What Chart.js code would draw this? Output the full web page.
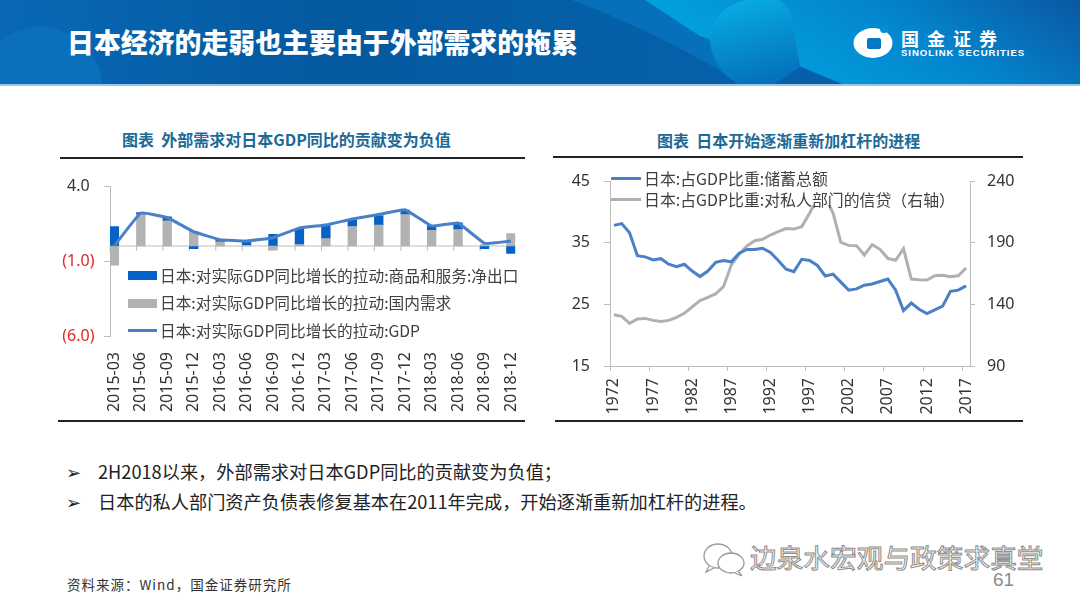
<!DOCTYPE html>
<html lang="zh-CN">
<head>
    <meta charset="UTF-8">
    <title>日本经济的走弱也主要由于外部需求的拖累</title>
    <script src="https://cdn.jsdelivr.net/npm/chart.js"></script>
    <style>
        html, body { margin: 0; padding: 0; background: #fff; }
        #page { position: relative; width: 1080px; height: 607px; overflow: hidden; font-family: "Noto Sans CJK SC", sans-serif; color: #262626; }
        #page > * { position: absolute; }
        .rule { height: 2px; background: #222; }
        .chart-title { color: #1c6a97; font-size: 16px; font-weight: 700; line-height: 20px; white-space: pre; }
        .legend { background: #fff; color: #404040; line-height: 20px; white-space: nowrap; }
        .legend-row { display: flex; align-items: center; }
        .legend-key { flex: none; margin-right: 3px; }
        .bullet { font-size: 18.2px; line-height: 24px; white-space: nowrap; color: #222; }
    </style>
</head>
<body>
<div id="page">
    <!-- header band -->
    <svg style="left:0;top:0" width="1080" height="86">
        <defs>
            <linearGradient id="bandBase" x1="0" x2="1" y1="0" y2="0">
                <stop offset="0" stop-color="#0868b6"/>
                <stop offset="0.3" stop-color="#05599f"/>
                <stop offset="0.6" stop-color="#0560a9"/>
                <stop offset="1" stop-color="#0660ac"/>
            </linearGradient>
            <linearGradient id="bandRight" x1="0" x2="1" y1="0.3" y2="0">
                <stop offset="0" stop-color="#02a4e2"/>
                <stop offset="0.55" stop-color="#0385cd"/>
                <stop offset="1" stop-color="#0b57a3"/>
            </linearGradient>
            <linearGradient id="bandOrb" x1="0" x2="0.4" y1="0" y2="1">
                <stop offset="0" stop-color="#08b0e6"/>
                <stop offset="1" stop-color="#0470bb"/>
            </linearGradient>
            <clipPath id="bandClip"><rect width="1080" height="84"/></clipPath>
        </defs>
        <rect width="1080" height="84" fill="url(#bandBase)"/>
        <circle cx="40" cy="90" r="63" fill="#0a70bd" clip-path="url(#bandClip)"/>
        <path d="M572 0 C620 18 670 42 712 66 L740 84 L845 84 L1080 84 L1080 0 Z" fill="#0670bb"/>
        <path d="M645 0 L700 36 L842 84 L1080 84 L1080 0 Z" fill="url(#bandRight)"/>
        <path d="M745 0 C722 6 708 24 710 42 C712 60 722 74 738 84 L842 84 L800 66 L790 10 L780 0 Z" fill="url(#bandOrb)"/>
        <path d="M775 84 L842 84 L800 67 Z" fill="#0560a9"/>
        <rect y="84" width="1080" height="2" fill="#9cc6e6"/>
    </svg>
    <div style="left:67px;top:23px;font-size:26.9px;font-weight:900;line-height:38px;color:#fff;white-space:nowrap">日本经济的走弱也主要由于外部需求的拖累</div>
    <svg style="left:852px;top:26px" width="44" height="34">
        <ellipse cx="21" cy="17" rx="19.5" ry="15" fill="#fff"/>
        <circle cx="32" cy="3" r="4" fill="#0a8ed2"/>
        <rect x="15" y="12" width="14" height="11" rx="2" fill="#0579c4"/>
    </svg>
    <div style="left:901px;top:27px;font-size:18px;font-weight:700;line-height:22px;letter-spacing:8px;color:#fff;white-space:nowrap">国金证券</div>
    <div style="left:901px;top:47px;font-family:'Liberation Sans',sans-serif;font-size:9.6px;font-weight:700;line-height:11px;letter-spacing:0.95px;color:#fff;white-space:nowrap">SINOLINK SECURITIES</div>

    <!-- left panel -->
    <div class="chart-title" style="left:122px;top:129px">图表  外部需求对日本GDP同比的贡献变为负值</div>
    <div class="rule" style="left:60px;top:157px;width:465px"></div>
    <canvas id="demandChart" style="left:60px;top:170px" width="480" height="260"></canvas>
    <div id="demandLegend" class="legend" style="left:128px;top:262px;font-size:15.7px"></div>
    <div class="rule" style="left:58px;top:420px;width:467px"></div>

    <!-- right panel -->
    <div class="chart-title" style="left:657px;top:130px">图表  日本开始逐渐重新加杠杆的进程</div>
    <div class="rule" style="left:553px;top:156px;width:470px"></div>
    <canvas id="leverageChart" style="left:560px;top:165px" width="470" height="260"></canvas>
    <div id="leverageLegend" class="legend" style="left:611px;top:168px;height:37px;font-size:15.9px"></div>
    <div class="rule" style="left:555px;top:420px;width:468px"></div>

    <!-- notes -->
    <div class="bullet" style="left:66px;top:459px">➢</div>
    <div class="bullet" style="left:98px;top:459px">2H2018以来，外部需求对日本GDP同比的贡献变为负值；</div>
    <div class="bullet" style="left:66px;top:489px">➢</div>
    <div class="bullet" style="left:98px;top:489px">日本的私人部门资产负债表修复基本在2011年完成，开始逐渐重新加杠杆的进程。</div>
    <div style="left:67px;top:574px;font-size:13.5px;line-height:20px;letter-spacing:1px;color:#333;white-space:nowrap">资料来源：Wind，国金证券研究所</div>

    <!-- watermark and page number -->
    <svg style="left:702px;top:541px" width="46" height="38" fill="#fff" stroke="#9a9a9a" stroke-width="1.3">
        <ellipse cx="16" cy="15" rx="14" ry="12"/>
        <path d="M7 25 L4 31 L12 27"/>
        <ellipse cx="29" cy="22" rx="13" ry="10"/>
        <path d="M36 30 L40 35 L33 32"/>
    </svg>
    <div style="left:750px;top:538px;font-size:26.7px;line-height:38px;color:#fff;-webkit-text-stroke:1px #8c8c8c;white-space:nowrap">边泉水宏观与政策求真堂</div>
    <div style="left:993px;top:568px;font-family:'Liberation Sans',sans-serif;font-size:19px;line-height:24px;color:#8c8c8c">61</div>
</div>

<script>
    // left chart: quarterly contribution to Japan GDP growth
    const quarters = ['2015-03', '2015-06', '2015-09', '2015-12', '2016-03', '2016-06', '2016-09', '2016-12',
        '2017-03', '2017-06', '2017-09', '2017-12', '2018-03', '2018-06', '2018-09', '2018-12'];
    const netExports = [1.29, 0.12, 0.27, -0.18, 0.13, 0.29, 0.78, 1.05, 0.9, 0.45, 0.62, 0.3, 0.3, 0.45, -0.18, -0.49];
    const domesticDemand = [-1.27, 2.1, 1.67, 0.98, 0.27, 0.04, -0.27, 0.1, 0.5, 1.3, 1.4, 2.1, 1.05, 1.1, 0.1, 0.82];
    const gdpContribution = [0.02, 2.2, 1.9, 0.95, 0.42, 0.33, 0.55, 1.2, 1.4, 1.8, 2.1, 2.42, 1.33, 1.53, 0.18, 0.33];
    const demandTicks = [4, -1, -6];
    const demandLabels = ['日本:对实际GDP同比增长的拉动:商品和服务:净出口', '日本:对实际GDP同比增长的拉动:国内需求', '日本:对实际GDP同比增长的拉动:GDP'];

    // right chart: annual share of GDP
    const years = [1972, 1973, 1974, 1975, 1976, 1977, 1978, 1979, 1980, 1981, 1982, 1983, 1984, 1985, 1986, 1987,
        1988, 1989, 1990, 1991, 1992, 1993, 1994, 1995, 1996, 1997, 1998, 1999, 2000, 2001, 2002, 2003, 2004, 2005,
        2006, 2007, 2008, 2009, 2010, 2011, 2012, 2013, 2014, 2015, 2016, 2017];
    const savingsShare = [37.8, 38.1, 36.6, 32.9, 32.7, 32.2, 32.4, 31.5, 31.1, 31.5, 30.4, 29.5, 30.4, 31.8, 32.1, 31.9,
        33.3, 33.9, 33.9, 34.1, 33.4, 32.1, 30.7, 30.3, 32.3, 32.1, 31.3, 29.6, 29.9, 28.6, 27.3, 27.5, 28.1, 28.3,
        28.7, 29.1, 27.3, 24.0, 25.2, 24.2, 23.5, 24.1, 24.7, 27.1, 27.3, 28.0];
    const privateCredit = [131.6, 130.3, 124.6, 128.1, 128.6, 127, 126, 127, 129.5, 132.7, 138, 143, 145.7, 148.4, 154.3, 172,
        180.5, 187.3, 191.6, 192.7, 196.2, 199, 201.4, 201, 203, 213.8, 226, 227, 214, 190.3, 187.8, 187.6, 180, 188.4,
        184.6, 177.3, 175.7, 185.1, 160.5, 160, 159.7, 163.2, 163.5, 162.4, 163.2, 169.5];
    const leverageLabels = ['日本:占GDP比重:储蓄总额', '日本:占GDP比重:对私人部门的信贷（右轴）'];

    const BLUE_BAR = '#0563c8';
    const GRAY_BAR = '#b2b2b2';
    const BLUE_LINE = '#4a80c8';
    const GRAY_LINE = '#b0b0b0';
    const AXIS_GRAY = '#bdbdbd';
    const TICK_FONT = { family: '"Noto Sans", sans-serif', size: 16 };

    // bars sit just right of the tick marks, so the x axis runs a little past the first and last index
    const BAR_EDGE = 0.165;

    Chart.defaults.animation = false;
    Chart.defaults.responsive = false;

    function points(values) {
        return values.map((v, i) => ({ x: i, y: v }));
    }

    // fixed axis size, and no extra room for labels that stick out past the plot
    function fixAxis(scale, size) {
        if (scale.isHorizontal()) scale.height = size;
        else scale.width = size;
        scale.paddingLeft = scale.paddingRight = scale.paddingTop = scale.paddingBottom = 0;
    }

    // zero line with the category tick marks hanging off it
    const zeroLine = {
        id: 'zeroLine',
        beforeDatasetsDraw(chart) {
            const { ctx, scales: { x, y } } = chart;
            const y0 = y.getPixelForValue(0);
            ctx.save();
            ctx.strokeStyle = AXIS_GRAY;
            ctx.lineWidth = 1;
            ctx.beginPath();
            ctx.moveTo(x.left, y0);
            ctx.lineTo(x.right, y0);
            quarters.forEach((q, i) => {
                const px = x.getPixelForValue(i - BAR_EDGE);
                ctx.moveTo(px, y0);
                ctx.lineTo(px, y0 + 5);
            });
            ctx.stroke();
            ctx.restore();
        }
    };

    new Chart(document.getElementById('demandChart'), {
        data: {
            datasets: [
                { type: 'line', label: demandLabels[2], data: points(gdpContribution), borderColor: BLUE_LINE, borderWidth: 3, pointRadius: 0, tension: 0.08, order: 0 },
                { type: 'bar', label: demandLabels[1], data: points(domesticDemand), backgroundColor: GRAY_BAR, stack: 'pull', barThickness: 8.7, order: 1 },
                { type: 'bar', label: demandLabels[0], data: points(netExports), backgroundColor: BLUE_BAR, stack: 'pull', barThickness: 8.7, order: 2 }
            ]
        },
        options: {
            layout: { autoPadding: false, padding: { top: 16, right: 24.7 } },
            plugins: { legend: { display: false }, tooltip: { enabled: false } },
            scales: {
                x: {
                    type: 'linear',
                    stacked: true,
                    offset: false,
                    min: -BAR_EDGE,
                    max: quarters.length - 1 + BAR_EDGE,
                    afterBuildTicks: scale => { scale.ticks = quarters.map((q, i) => ({ value: i })); },
                    afterFit: scale => fixAxis(scale, 94),
                    border: { display: false },
                    grid: { display: false, offset: false },
                    ticks: {
                        autoSkip: false,
                        minRotation: 90,
                        maxRotation: 90,
                        padding: 8,
                        color: '#333',
                        font: TICK_FONT,
                        callback: value => quarters[value]
                    }
                },
                y: {
                    stacked: true,
                    min: -6,
                    max: 4,
                    afterBuildTicks: scale => { scale.ticks = demandTicks.map(v => ({ value: v })); },
                    afterFit: scale => fixAxis(scale, 50),
                    border: { color: AXIS_GRAY },
                    grid: { drawOnChartArea: false, color: AXIS_GRAY, tickLength: 6 },
                    ticks: {
                        padding: 9.5,
                        crossAlign: 'center',
                        font: TICK_FONT,
                        color: ctx => ctx.tick.value < 0 ? '#e0262b' : '#333',
                        callback: value => value < 0 ? '(' + Math.abs(value).toFixed(1) + ')' : value.toFixed(1)
                    }
                }
            }
        },
        plugins: [zeroLine]
    });

    new Chart(document.getElementById('leverageChart'), {
        type: 'line',
        data: {
            labels: years,
            datasets: [
                { label: leverageLabels[0], data: savingsShare, yAxisID: 'y', borderColor: BLUE_LINE, borderWidth: 3, pointRadius: 0, order: 0 },
                { label: leverageLabels[1], data: privateCredit, yAxisID: 'y1', borderColor: GRAY_LINE, borderWidth: 3, pointRadius: 0, order: 1 }
            ]
        },
        options: {
            layout: { autoPadding: false, padding: { top: 16 } },
            plugins: { legend: { display: false }, tooltip: { enabled: false } },
            scales: {
                x: {
                    offset: true,
                    afterFit: scale => fixAxis(scale, 59),
                    border: { color: AXIS_GRAY },
                    grid: {
                        offset: true,
                        drawOnChartArea: false,
                        tickLength: 5,
                        tickColor: ctx => ctx.index % 5 === 0 ? AXIS_GRAY : 'transparent'
                    },
                    ticks: {
                        autoSkip: false,
                        minRotation: 90,
                        maxRotation: 90,
                        padding: 7,
                        color: '#333',
                        font: TICK_FONT,
                        callback: (value, index) => index % 5 === 0 ? years[index] : ''
                    }
                },
                y: {
                    position: 'left',
                    min: 15,
                    max: 45,
                    afterFit: scale => fixAxis(scale, 50),
                    border: { color: AXIS_GRAY },
                    grid: { drawOnChartArea: false, color: AXIS_GRAY, tickLength: 6 },
                    ticks: { stepSize: 10, padding: 14, color: '#333', font: TICK_FONT }
                },
                y1: {
                    position: 'right',
                    min: 90,
                    max: 240,
                    afterFit: scale => fixAxis(scale, 60),
                    border: { color: AXIS_GRAY },
                    grid: { drawOnChartArea: false, color: AXIS_GRAY, tickLength: 5 },
                    ticks: { stepSize: 50, padding: 12, color: '#333', font: TICK_FONT }
                }
            }
        }
    });

    // legends sit over the plots as in the original slide, the white box hides the credit peak
    function buildLegend(id, entries, rowHeight) {
        const box = document.getElementById(id);
        entries.forEach(entry => {
            const row = document.createElement('div');
            row.className = 'legend-row';
            row.style.height = rowHeight + 'px';
            const key = document.createElement('span');
            key.className = 'legend-key';
            key.style.width = entry.width + 'px';
            key.style.height = entry.bar ? '9px' : '3px';
            key.style.background = entry.color;
            const text = document.createElement('span');
            text.textContent = entry.label;
            row.append(key, text);
            box.append(row);
        });
    }

    buildLegend('demandLegend', [
        { label: demandLabels[0], color: BLUE_BAR, bar: true, width: 29 },
        { label: demandLabels[1], color: GRAY_BAR, bar: true, width: 29 },
        { label: demandLabels[2], color: BLUE_LINE, bar: false, width: 29 }
    ], 27.5);
    buildLegend('leverageLegend', [
        { label: leverageLabels[0], color: BLUE_LINE, bar: false, width: 30 },
        { label: leverageLabels[1], color: GRAY_LINE, bar: false, width: 30 }
    ], 21);
</script>
</body>
</html>
